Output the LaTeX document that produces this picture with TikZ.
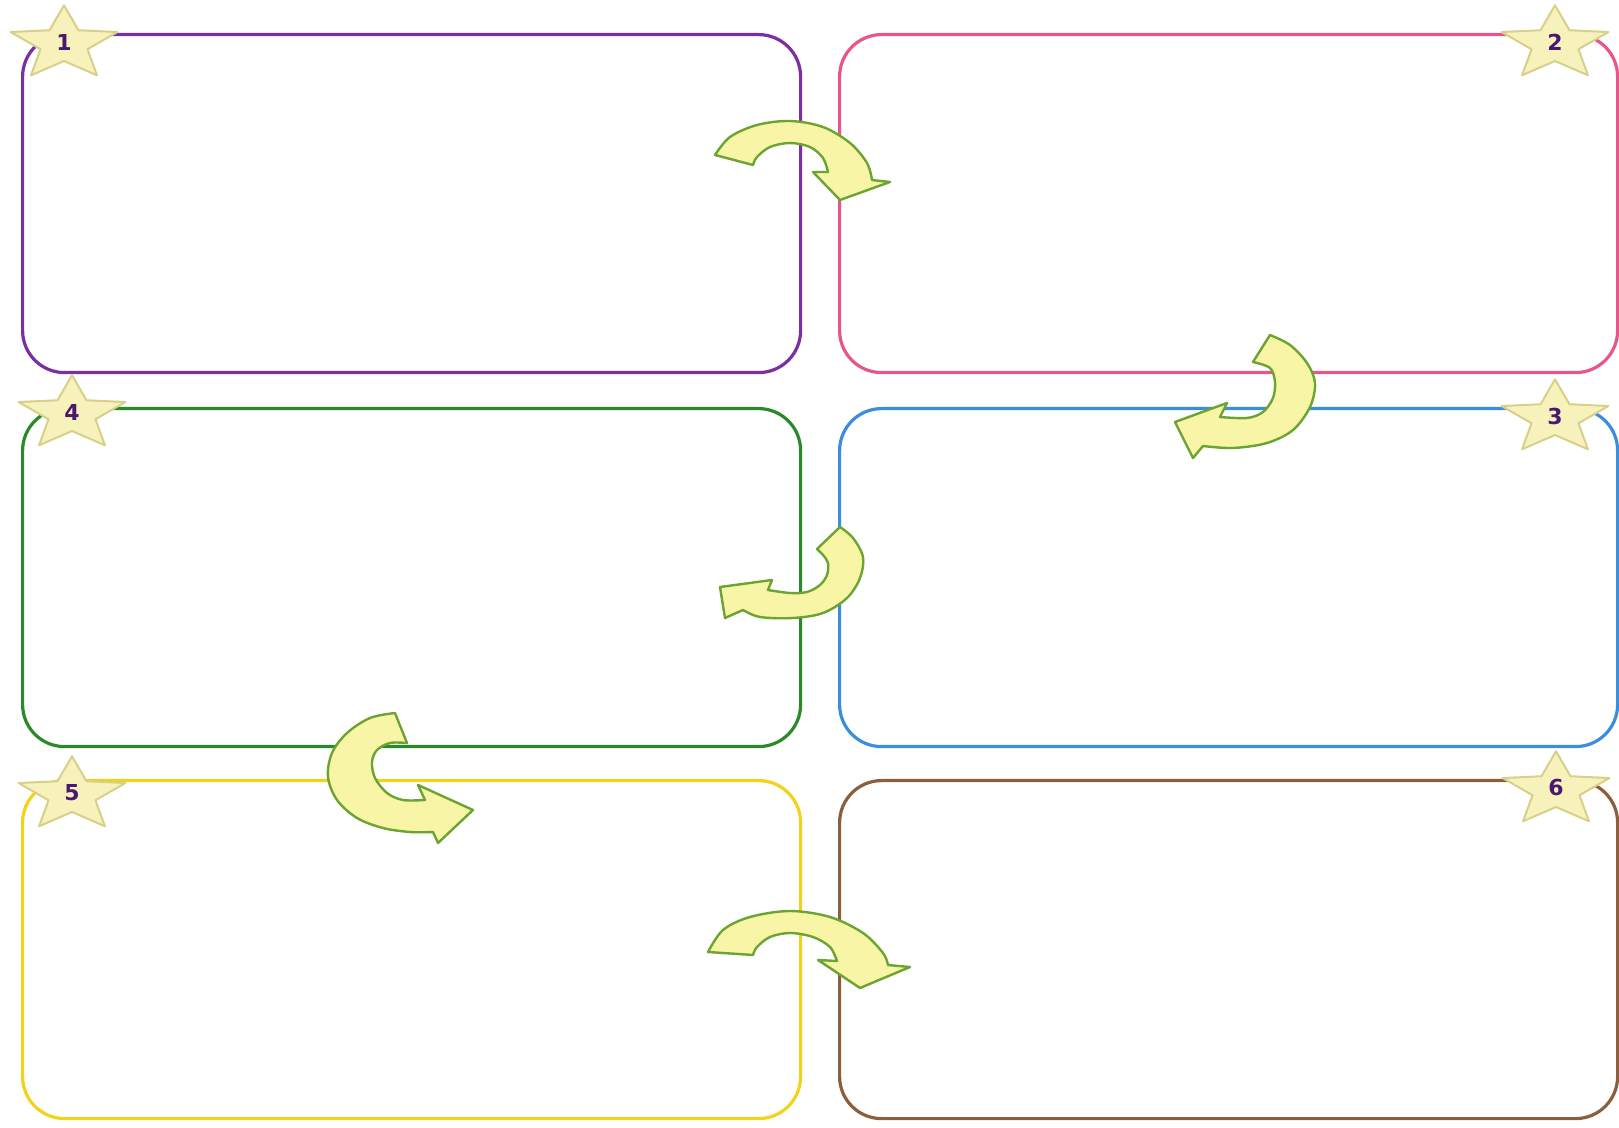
\documentclass[tikz,border=0pt]{standalone}
\usepackage{fontspec}
\setmainfont{DejaVu Sans}
\definecolor{cpurple}{HTML}{7B2FA0}
\definecolor{cpink}{HTML}{E8558A}
\definecolor{cgreen}{HTML}{2A8A2A}
\definecolor{cblue}{HTML}{3A8EDB}
\definecolor{cyellow}{HTML}{F2D21B}
\definecolor{cbrown}{HTML}{8B5E3C}
\definecolor{starfill}{HTML}{F7F2BC}
\definecolor{starline}{HTML}{D6D088}
\definecolor{arrfill}{HTML}{F8F5A6}
\definecolor{arrline}{HTML}{6BA430}
\definecolor{numcol}{HTML}{4A1870}
\begin{document}
\begin{tikzpicture}[x=0.5pt,y=-0.5pt,
  box/.style={draw, line width=1.6pt, rounded corners=21pt, minimum width=389pt, minimum height=169pt, anchor=north west, inner sep=0pt},
  starshape/.style={fill=starfill, draw=starline, line width=1pt, line join=round},
  arrowshape/.style={fill=arrfill, draw=arrline, line width=1.2pt, line join=round},
  numlabel/.style={font=\bfseries\fontsize{11}{13}\selectfont, text=numcol, inner sep=0pt}]
\useasboundingbox (0,0) rectangle (1619,1128);

% boxes
\node[box, draw=cpurple] (b1) at (21,33) {};
\node[box, draw=cpink]   (b2) at (838,33) {};
\node[box, draw=cgreen]  (b4) at (21,407) {};
\node[box, draw=cblue]   (b3) at (838,407) {};
\node[box, draw=cyellow] (b5) at (21,779) {};
\node[box, draw=cbrown]  (b6) at (838,779) {};

% stars
\foreach \n/\cx/\cy in {1/64/44, 2/1555/44, 4/72/414, 3/1555/418, 5/72/795, 6/1556/790}{
  \begin{scope}[shift={(\cx,\cy)}, xscale=1.45, yscale=-1]
    \draw[starshape] (90:38.7) -- (126:17) -- (162:38.7) -- (198:17) -- (234:38.7) -- (270:17) -- (306:38.7) -- (342:17) -- (18:38.7) -- (54:17) -- cycle;
  \end{scope}
  \node[numlabel] (s\n) at (\cx,\cy-2) {\n};
}

% curved arrows
% 1 -> 2
\draw[arrowshape] plot[smooth, tension=0.55] coordinates {(715,155) (730,137) (757,125) (790,121) (823,127) (850,143) (867,163) (872,180)}
  -- (890,182) -- (840,200) -- (813,172)
  -- plot[smooth, tension=0.55] coordinates {(828,172) (823,158) (810,147) (790,143) (770,147) (757,157) (753,165)} -- cycle;
% 2 -> 3
\draw[arrowshape] plot[smooth, tension=0.55] coordinates {(1270,335) (1290,345) (1307,363) (1315,383) (1310,407) (1293,430) (1267,443) (1233,448) (1203,446)}
  -- (1193,458) -- (1175,422) -- (1227,403)
  -- plot[smooth, tension=0.55] coordinates {(1220,417) (1247,418) (1263,412) (1273,398) (1275,382) (1270,368) (1253,362)} -- cycle;
% 3 -> 4
\draw[arrowshape] plot[smooth, tension=0.55] coordinates {(840,527) (853,538) (863,557) (860,578) (847,598) (823,613) (793,618) (760,617) (743,610)}
  -- (725,618) -- (720,587) -- (772,580)
  -- plot[smooth, tension=0.55] coordinates {(768,590) (790,593) (807,592) (820,585) (827,575) (828,563) (823,555) (817,549)} -- cycle;
% 4 -> 5
\draw[arrowshape] plot[smooth, tension=0.55] coordinates {(395,713) (370,718) (347,733) (332,753) (328,777) (337,800) (357,818) (383,828) (410,832) (433,832)}
  -- (438,843) -- (473,810) -- (418,785)
  -- plot[smooth, tension=0.55] coordinates {(425,800) (403,800) (387,793) (375,778) (372,762) (377,750) (390,743) (407,743)} -- cycle;
% 5 -> 6
\draw[arrowshape] plot[smooth, tension=0.55] coordinates {(708,952) (723,930) (750,917) (790,911) (830,917) (863,933) (883,953) (888,965)}
  -- (910,967) -- (860,988) -- (818,960)
  -- plot[smooth, tension=0.55] coordinates {(837,961) (830,947) (813,937) (790,933) (770,937) (757,947) (753,955)} -- cycle;
\end{tikzpicture}
\end{document}
